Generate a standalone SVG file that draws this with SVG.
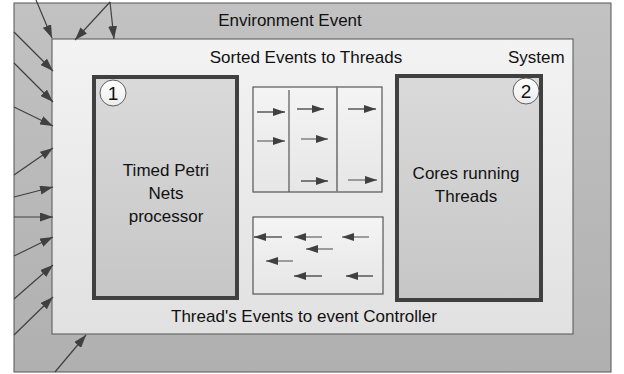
<svg xmlns="http://www.w3.org/2000/svg" width="624" height="374" viewBox="0 0 624 374">
<defs>
<linearGradient id="gOuter" x1="0" y1="0" x2="0" y2="1"><stop offset="0" stop-color="#c2c2c2"/><stop offset="1" stop-color="#b0b0b0"/></linearGradient>
<linearGradient id="gSys" x1="0" y1="0" x2="0" y2="1"><stop offset="0" stop-color="#f3f3f3"/><stop offset="1" stop-color="#e1e1e1"/></linearGradient>
<linearGradient id="gProc" x1="0" y1="0" x2="0" y2="1"><stop offset="0" stop-color="#dadada"/><stop offset="1" stop-color="#c6c6c6"/></linearGradient>
<linearGradient id="gSmall" x1="0" y1="0" x2="0" y2="1"><stop offset="0" stop-color="#f4f4f4"/><stop offset="1" stop-color="#e6e6e6"/></linearGradient>
<linearGradient id="gCirc" x1="0" y1="0" x2="0" y2="1"><stop offset="0" stop-color="#ffffff"/><stop offset="1" stop-color="#ececec"/></linearGradient>
<marker id="ah" markerUnits="userSpaceOnUse" markerWidth="13" markerHeight="9" refX="13" refY="4.5" orient="auto"><path d="M0,0 L13,4.5 L0,9 z" fill="#404040"/></marker>
<marker id="ahs" markerUnits="userSpaceOnUse" markerWidth="12" markerHeight="8" refX="12" refY="4" orient="auto"><path d="M0,0 L12,4 L0,8 z" fill="#404040"/></marker>
</defs>
<style>
text{font-family:"Liberation Sans",Arial,sans-serif;font-size:17px;fill:#111}
.c{text-anchor:middle}
.num{font-size:19px}
.big{stroke:#404040;stroke-width:1.2;fill:none;marker-end:url(#ah)}
.sm{stroke:#404040;stroke-width:1.3;fill:none;marker-end:url(#ahs)}
.smg{stroke:#808080;stroke-width:1.5;fill:none;marker-end:url(#ahs)}
.proc{fill:url(#gProc);stroke:#404040;stroke-width:4}
.small{fill:url(#gSmall);stroke:#555;stroke-width:1.2}
.circ{fill:url(#gCirc);stroke:#606060;stroke-width:1}
</style>
<g id="environment">
<rect x="14" y="3" width="597" height="369" fill="url(#gOuter)" stroke="#555" stroke-width="1"/>
<text class="c" x="290" y="26">Environment Event</text>
</g>
<g id="system">
<rect x="52" y="39" width="521" height="295" fill="url(#gSys)" stroke="#555" stroke-width="1"/>
<text class="c" x="306" y="63">Sorted Events to Threads</text>
<text x="508" y="63">System</text>
<text class="c" x="304" y="322">Thread's Events to event Controller</text>
</g>
<g id="processor">
<rect class="proc" x="94" y="77" width="143" height="221"/>
<circle class="circ" cx="113" cy="93" r="13"/>
<text class="c num" x="113" y="100">1</text>
<text class="c" x="166" y="176">Timed Petri</text>
<text class="c" x="166" y="199">Nets</text>
<text class="c" x="166" y="222">processor</text>
</g>
<g id="cores">
<rect class="proc" x="397" y="76" width="144" height="224"/>
<circle class="circ" cx="526" cy="91" r="13"/>
<text class="c num" x="526" y="98">2</text>
<text class="c" x="466" y="179">Cores running</text>
<text class="c" x="466" y="202">Threads</text>
</g>
<g id="sorted-events">
<rect class="small" x="253" y="87" width="129" height="105"/>
<line x1="289" y1="90" x2="289" y2="192" stroke="#555" stroke-width="1.2"/>
<line x1="337" y1="86" x2="337" y2="192" stroke="#808080" stroke-width="1.8"/>
</g>
<g id="thread-events">
<rect class="small" x="253" y="217" width="130" height="77"/>
</g>
<g id="connectors">
<line class="big" x1="36" y1="0" x2="52" y2="38"/>
<line class="big" x1="110" y1="2" x2="75" y2="40"/>
<line class="big" x1="110" y1="2" x2="114" y2="39"/>
<line class="big" x1="14" y1="32" x2="53" y2="71"/>
<line class="big" x1="14" y1="63" x2="53" y2="102"/>
<line class="big" x1="14" y1="107" x2="53" y2="126"/>
<line class="big" x1="14" y1="175" x2="53" y2="148"/>
<line class="big" x1="14" y1="197" x2="53" y2="187"/>
<line class="big" x1="14" y1="217" x2="53" y2="217"/>
<line class="big" x1="14" y1="256" x2="53" y2="237"/>
<line class="big" x1="14" y1="299" x2="53" y2="265"/>
<line class="big" x1="14" y1="335" x2="53" y2="297"/>
<line class="big" x1="55" y1="372" x2="86" y2="335"/>
<line class="sm" x1="257" y1="112" x2="285" y2="112"/>
<line class="sm" x1="297" y1="109" x2="324" y2="109"/>
<line class="sm" x1="348" y1="109" x2="376" y2="109"/>
<line class="smg" x1="257" y1="141" x2="285" y2="141"/>
<line class="smg" x1="301" y1="139" x2="328" y2="139"/>
<line class="sm" x1="301" y1="181" x2="328" y2="181"/>
<line class="smg" x1="348" y1="180" x2="377" y2="180"/>
<line class="sm" x1="282" y1="237" x2="254" y2="237"/>
<line class="smg" x1="322" y1="237" x2="294" y2="237"/>
<line class="smg" x1="369" y1="237" x2="342" y2="237"/>
<line class="smg" x1="333" y1="249" x2="306" y2="249"/>
<line class="smg" x1="293" y1="261" x2="266" y2="261"/>
<line class="sm" x1="322" y1="276" x2="294" y2="276"/>
<line class="sm" x1="373" y1="276" x2="346" y2="276"/>
</g>
</svg>
